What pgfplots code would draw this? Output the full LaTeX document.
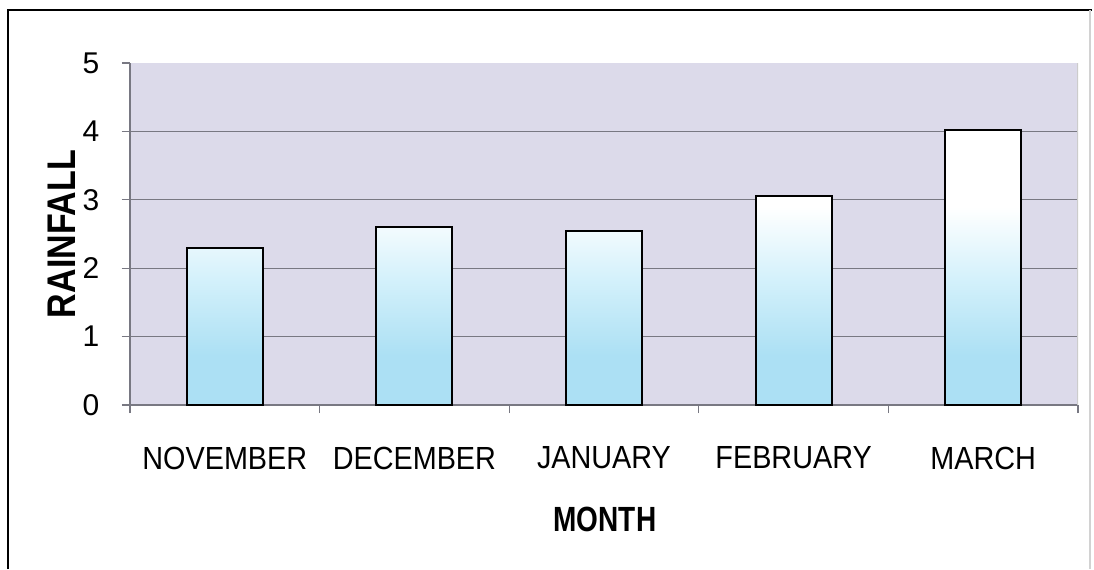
\documentclass[border=0pt]{standalone}
\usepackage{pgfplots}
\pgfplotsset{compat=1.18}
\usepackage{fontspec}
\setmainfont{Liberation Sans}
\newfontfamily\ticknarrow[FakeStretch=0.9]{Liberation Sans}
\newfontfamily\labnarrowA[FakeStretch=0.85]{Liberation Sans}
\newfontfamily\labnarrowB[FakeStretch=0.8]{Liberation Sans}
\definecolor{plotbg}{RGB}{220,218,234}
\definecolor{barblue}{RGB}{172,224,244}
\definecolor{barmid}{RGB}{212,241,251}
\definecolor{axgray}{RGB}{120,120,130}
\pgfdeclareverticalshading{barshade}{100bp}{color(0bp)=(barblue); color(25bp)=(barblue); color(34bp)=(barblue); color(48bp)=(barmid); color(61bp)=(white); color(75bp)=(white); color(100bp)=(white)}
\begin{document}
\begin{tikzpicture}
\useasboundingbox (0,0) rectangle (547pt,284.5pt);
\fill[white] (0,0) rectangle (547pt,284.5pt);
\draw[line width=1pt] (4pt,0) -- (4pt,279.5pt) -- (546pt,279.5pt);
\draw[gray!35,line width=0.6pt] (545pt,279.5pt) -- (545pt,0);
\begin{axis}[
  at={(65pt,82pt)}, anchor=south west,
  width=474pt, height=171pt, scale only axis,
  xmin=-0.5, xmax=4.5, ymin=0, ymax=5,
  axis background/.style={fill=plotbg},
  axis x line*=bottom, axis y line*=left,
  axis line style={axgray, line width=0.6pt},
  tick align=outside,
  major tick length=4pt,
  tick style={axgray, line width=0.6pt},
  xtick={-0.5,0.5,1.5,2.5,3.5,4.5},
  xticklabels={},
  extra x ticks={0,1,2,3,4},
  extra x tick labels={NOVEMBER,DECEMBER,JANUARY,FEBRUARY,MARCH},
  extra x tick style={tick style={draw=none}},
  xticklabel style={anchor=center, yshift=-22.5pt, font=\ticknarrow\fontsize{16}{19}\selectfont},
  ytick={0,1,2,3,4,5},
  extra y ticks={1,2,3,4},
  extra y tick labels={},
  extra y tick style={grid=major},
  major grid style={axgray, line width=0.6pt},
  yticklabel style={anchor=center, xshift=-15.5pt, font=\fontsize{15}{18}\selectfont},
  /pgf/number format/assume math mode=true,
  xlabel={MONTH},
  xlabel style={at={(axis description cs:0.501,-0.335)}, anchor=center, font=\labnarrowB\bfseries\fontsize{17.5}{20}\selectfont},
  ylabel={RAINFALL},
  ylabel style={at={(axis description cs:-0.0717,0.5)}, anchor=center, rotate=0, font=\labnarrowA\bfseries\fontsize{20}{23}\selectfont},
]
\addplot[ybar, bar width=38pt, draw=black, line width=1pt, shading=barshade]
  coordinates {(0,2.3) (1,2.6) (2,2.55) (3,3.05) (4,4.02)};
\draw[gray!40, line width=0.6pt] (rel axis cs:1,0) -- (rel axis cs:1,1);
\end{axis}
\end{tikzpicture}
\end{document}
